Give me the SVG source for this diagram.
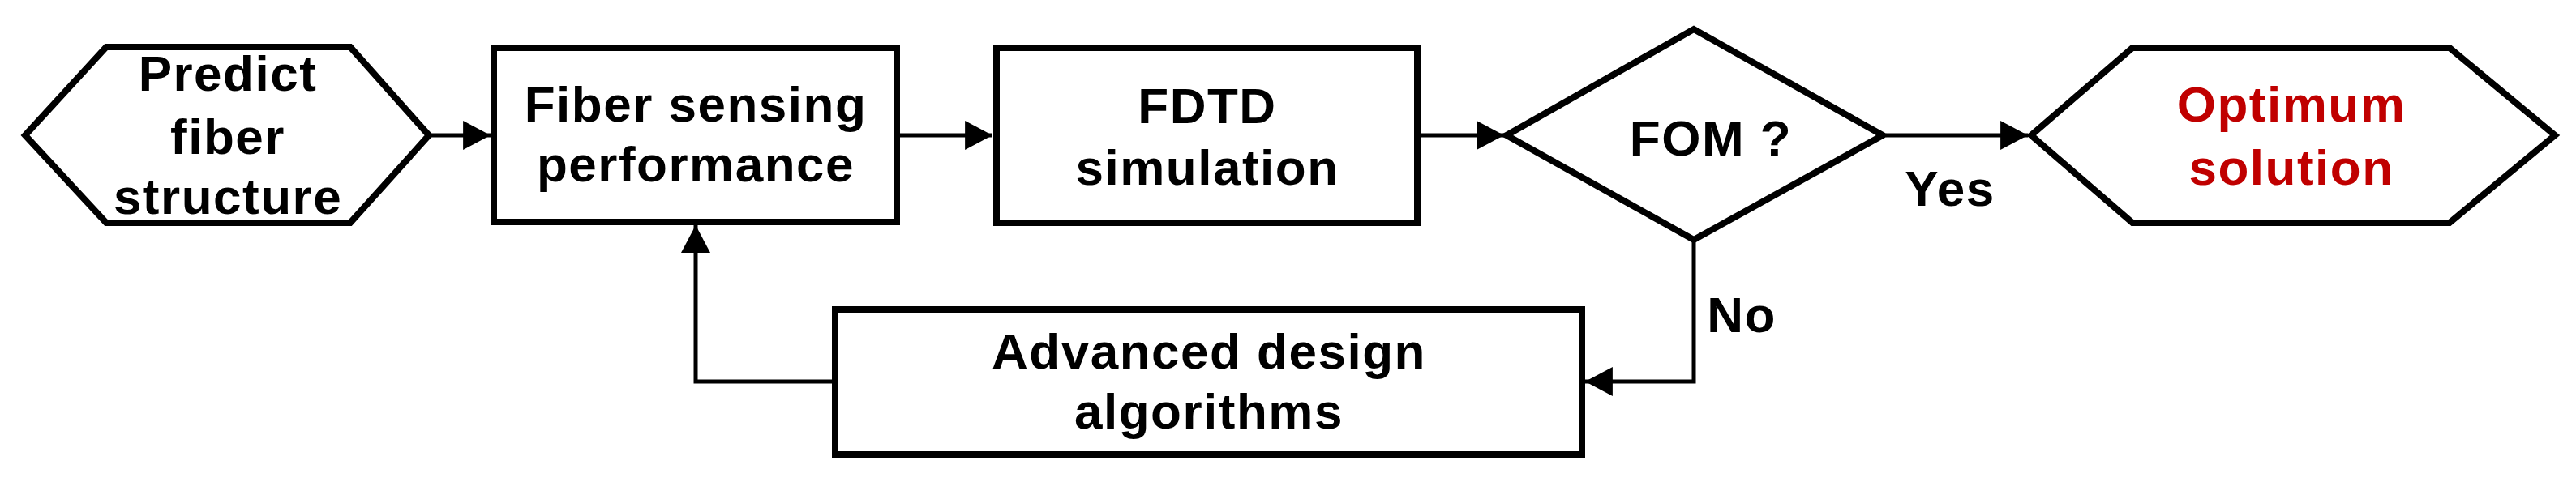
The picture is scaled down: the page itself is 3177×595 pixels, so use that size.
<svg xmlns="http://www.w3.org/2000/svg" width="3177" height="595" viewBox="0 0 3177 595">
<style>
.shape{fill:#fff;stroke:#000;stroke-width:8;stroke-linejoin:miter}
.conn{fill:none;stroke:#000;stroke-width:5}
.t{font-family:"Liberation Sans",Arial,sans-serif;font-weight:bold;font-size:62px;letter-spacing:1.5px;fill:#000;text-anchor:middle}
.red{fill:#C00000}
</style>
<defs>
<marker id="arr" markerUnits="userSpaceOnUse" markerWidth="34" markerHeight="36" viewBox="0 0 32 34" refX="32" refY="17" orient="auto">
<path d="M0,0 L32,17 L0,34 Z" fill="#000"/>
</marker>
</defs>
<rect width="3177" height="595" fill="#fff"/>
<g id="connectors">
<line class="conn" x1="531" y1="167" x2="605" y2="167" marker-end="url(#arr)"/>
<line class="conn" x1="1110" y1="167" x2="1224" y2="167" marker-end="url(#arr)"/>
<line class="conn" x1="1752" y1="167" x2="1855" y2="167" marker-end="url(#arr)"/>
<line class="conn" x1="2326" y1="167" x2="2501" y2="167" marker-end="url(#arr)"/>
<polyline class="conn" points="2089,298 2089,471 1955,471" marker-end="url(#arr)"/>
<polyline class="conn" points="1029,471 858,471 858,278" marker-end="url(#arr)"/>
<text class="t" x="2405" y="254">Yes</text>
<text class="t" x="2148" y="410">No</text>
</g>
<g id="predict">
<polygon class="shape" points="31,167 131,58 432,58 529,167 432,275 131,275"/>
<text class="t" x="281" y="112">Predict</text>
<text class="t" x="281" y="190">fiber</text>
<text class="t" x="281" y="264">structure</text>
</g>
<g id="fiber-sensing">
<rect class="shape" x="609" y="59" width="497" height="215"/>
<text class="t" x="858" y="150">Fiber sensing</text>
<text class="t" x="858" y="224">performance</text>
</g>
<g id="fdtd">
<rect class="shape" x="1229" y="59" width="519" height="216"/>
<text class="t" x="1489" y="152">FDTD</text>
<text class="t" x="1489" y="228">simulation</text>
</g>
<g id="fom">
<polygon class="shape" points="1858,167 2089,36 2322,167 2089,296"/>
<text class="t" x="2110" y="192">FOM ?</text>
</g>
<g id="optimum">
<polygon class="shape" points="2505,167 2630,59 3021,59 3151,167 3021,275 2630,275"/>
<text class="t red" x="2826" y="150">Optimum</text>
<text class="t red" x="2826" y="228">solution</text>
</g>
<g id="advanced">
<rect class="shape" x="1030" y="382" width="921" height="179"/>
<text class="t" x="1491" y="455">Advanced design</text>
<text class="t" x="1491" y="529">algorithms</text>
</g>
</svg>
